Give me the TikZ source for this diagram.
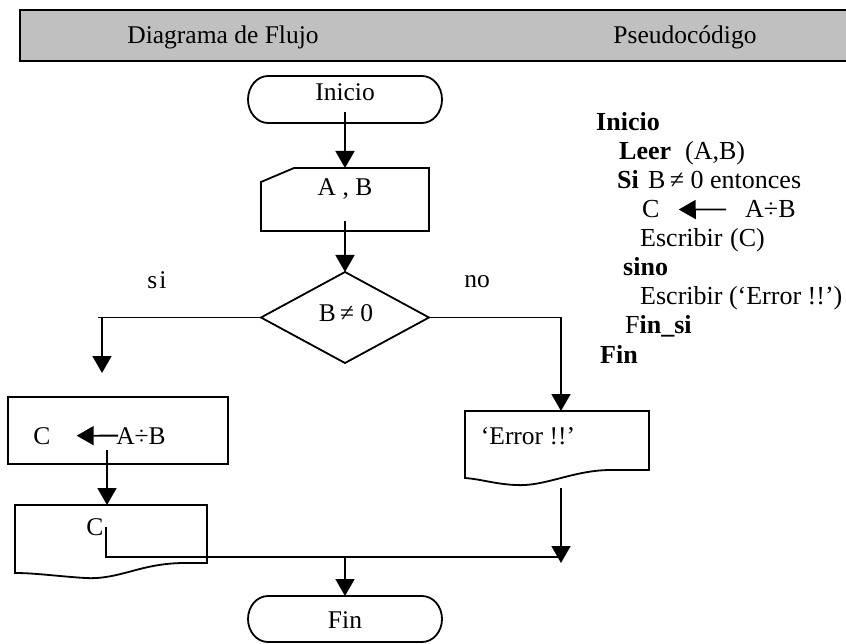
\documentclass[tikz,border=0pt]{standalone}
\usepackage{fontspec}
\setmainfont{Liberation Serif}
\usetikzlibrary{arrows.meta,calc}
\definecolor{gris}{RGB}{192,192,192}
\begin{document}
\begin{tikzpicture}[x=1pt,y=-1pt,
  linea/.style={line width=1.8pt, line join=miter},
  flecha/.style={linea, -{Triangle[length=17pt,width=19pt]}},
  marco/.style={inner sep=0pt, outer sep=0pt},
  txt/.style={inner sep=0pt, anchor=base, font=\fontsize{25.5}{30}\selectfont},
  txtw/.style={txt, anchor=base west, font=\fontsize{26}{30}\selectfont},
]
\useasboundingbox (0,0) rectangle (846,644);

% header band
\node[marco, minimum width=832pt, minimum height=51pt, fill=gris, draw, line width=2.5pt] (cab) at (436,35.5) {};
\node[txt] (tdf) at (223,44) {Diagrama de Flujo};
\node[txt] (tps) at (685,44) {Pseudocódigo};

% shape frames
\node[marco, minimum width=194pt, minimum height=47pt] (ini) at (345,99.5) {};
\node[marco, minimum width=168pt, minimum height=63pt] (ab) at (345,199.5) {};
\node[marco, minimum width=168pt, minimum height=91pt] (dec) at (345,317.5) {};
\node[marco, minimum width=220pt, minimum height=67pt] (asig) at (118,430.5) {};
\node[marco, minimum width=192pt, minimum height=68pt] (out) at (111,539) {};
\node[marco, minimum width=184pt, minimum height=67pt] (err) at (557,444.5) {};
\node[marco, minimum width=194pt, minimum height=46pt] (fin) at (345,619) {};

% terminal: Inicio
\draw[linea] ([xshift=20pt]ini.north west) -- ([xshift=-20pt]ini.north east)
  arc[start angle=90, end angle=-90, x radius=20pt, y radius=23.5pt]
  -- ([xshift=20pt]ini.south west)
  arc[start angle=270, end angle=90, x radius=20pt, y radius=23.5pt] -- cycle;
% terminal: Fin
\draw[linea] ([xshift=20pt]fin.north west) -- ([xshift=-20pt]fin.north east)
  arc[start angle=90, end angle=-90, x radius=20pt, y radius=23pt]
  -- ([xshift=20pt]fin.south west)
  arc[start angle=270, end angle=90, x radius=20pt, y radius=23pt] -- cycle;
% manual input
\draw[linea] ([yshift=-14pt]ab.north west) -- ([xshift=33pt]ab.north west)
  -- (ab.north east) -- (ab.south east) -- (ab.south west) -- cycle;
% decision
\draw[linea] (dec.north) -- (dec.east) -- (dec.south) -- (dec.west) -- cycle;
% process
\draw[linea] (asig.north west) rectangle (asig.south east);
% document outputs
\draw[linea] (out.south west) -- (out.north west) -- (out.north east)
  -- ([yshift=10pt]out.south east) -- ($(out.south east)+(-22,-10)$)
  .. controls ($(out.south east)+(-67,-10)$) and ($(out.south east)+(-87,7)$) .. ($(out.south west)+(70,5)$)
  .. controls ($(out.south west)+(40,3)$) and ($(out.south west)+(20,0)$) .. (out.south west) -- cycle;
\draw[linea] (err.south west) -- (err.north west) -- (err.north east)
  -- ([yshift=8pt]err.south east) -- ($(err.south east)+(-38,-8)$)
  .. controls ($(err.south east)+(-76,-8)$) and ($(err.south east)+(-104,9)$) .. ($(err.south west)+(50,7)$)
  .. controls ($(err.south west)+(30,6)$) and ($(err.south west)+(15,1)$) .. (err.south west) -- cycle;

% texts in the flowchart
\node[txt] (tini) at (345,101) {Inicio};
\node[txt] (tab) at (345,196) {A , B};
\node[txt] (tdec) at (346,321) {B\,≠ 0};
\node[txt] (tsi) at (157,289) {s\kern2pt i};
\node[txt] (tno) at (477,288) {no};
\node[txt] (tc1) at (42,444) {C};
\node[txt] (tdiv1) at (141,444) {A÷B};
\node[txt] (tc2) at (95,535) {C};
\node[txt] (terr) at (528,444) {‘Error !!’};
\node[txt] (tfin) at (345,628) {Fin};

% connectors
\draw[flecha] ([yshift=11pt]ini.south) -- (ab.north);
\draw[flecha] ([yshift=10pt]ab.south) -- (dec.north);
\coordinate (codoI) at (98,317.5);
\coordinate (puntaI) at (102,373);
\draw[linea] (dec.west) -- (codoI);
\draw[flecha] ([xshift=4pt]codoI) -- (puntaI);
\coordinate (codoD) at (561,317.5);
\draw[linea] (dec.east) -- (codoD);
\draw[flecha] (codoD) -- (codoD |- err.north);
\draw[flecha] ([xshift=2pt]tdiv1.west) -- ([xshift=26pt]tc1.east);
\coordinate (a3) at ($(asig.south)+(-11,-14)$);
\draw[flecha] (a3) -- (a3 |- out.north);
\coordinate (sC) at ($(tc2.east)+(2,0)$);
\coordinate (unionE) at (561,557);
\coordinate (puntaE) at (561,563);
\draw[linea] (sC) |- (unionE);
\draw[flecha] (unionE |- 0,488) -- (puntaE);
\draw[flecha] (unionE -| fin.north) -- (fin.north);

% pseudocode
\node[txtw] (p1) at (596,131) {\textbf{Inicio}};
\node[txtw] (p2a) at (619,160) {\textbf{Leer}};
\node[txtw] (p2b) at (685,160) {(A,B)};
\node[txtw] (p3a) at (617,189) {\textbf{Si}};
\node[txtw] (p3b) at (648,189) {B\,≠ 0 entonces};
\node[txtw] (p4a) at (642,218) {C};
\node[txtw] (p4b) at (745,218) {A÷B};
\draw[flecha] ([xshift=-19pt]p4b.west) -- ([xshift=19pt]p4a.east);
\node[txtw] (p5a) at (640,247) {Escribir};
\node[txtw] (p5b) at (730,247) {(C)};
\node[txtw] (p6) at (623,276) {\textbf{sino}};
\node[txtw] (p7) at (640,305) {Escribir (‘Error !!’)};
\node[txtw] (p8) at (625,334) {F\textbf{in\_si}};
\node[txtw] (p9) at (600,363) {\textbf{Fin}};
\end{tikzpicture}
\end{document}
